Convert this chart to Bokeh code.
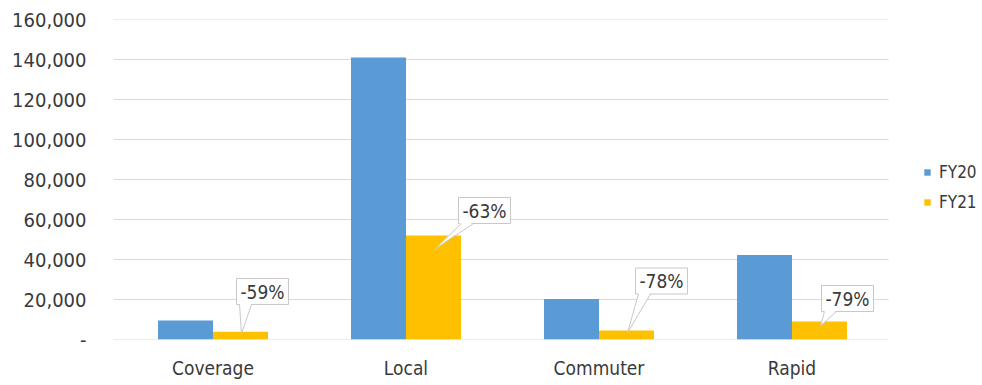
from bokeh.plotting import figure
from bokeh.models import Range1d, FixedTicker, Legend, LegendItem, NumeralTickFormatter
from bokeh.core.properties import value
from bokeh.embed import file_html
from bokeh.resources import INLINE

# ---- data ----
categories = ["Coverage", "Local", "Commuter", "Rapid"]
fy20 = [9500, 141000, 20200, 42200]
fy21 = [3900, 52000, 4500, 9000]
pct_change = [-59, -63, -78, -79]
y_ticks = [0, 20000, 40000, 60000, 80000, 100000, 120000, 140000, 160000]

# ---- callout placement (positions, not data) ----
label_dx_px = [22, 51, 35, 28]          # box centre offset from bar centre (px)
label_y = [24000, 64500, 29250, 20500]  # box centre height (data)

FONT = "DejaVu Sans Condensed"
TXT = "#3a3a3a"
BLUE = "#5B9BD5"
GOLD = "#FFC000"
GRID = "#d9d9d9"

W, H = 982, 385
LEFT, RIGHT, TOP, BOTTOM = 113, 2, 19, 46
FRAME_W, FRAME_H = W - LEFT - RIGHT, H - TOP - BOTTOM
PX = 193.0                         # px per category
px_x = 1.0 / PX
px_y = 160000 / FRAME_H
x_start = -3 * px_x
x_end = x_start + FRAME_W * px_x

p = figure(width=W, height=H, output_backend="svg", toolbar_location=None,
           x_range=Range1d(x_start, x_end), y_range=Range1d(0, 160000),
           min_border_left=LEFT, min_border_right=RIGHT,
           min_border_top=TOP, min_border_bottom=BOTTOM)
p.outline_line_color = None
p.background_fill_color = "white"
p.xgrid.grid_line_color = None
p.ygrid.grid_line_color = None

# gridlines limited to the category area
p.segment(x0=[x_start] * len(y_ticks), x1=[len(categories)] * len(y_ticks),
          y0=y_ticks, y1=y_ticks, line_color=GRID, line_width=1)

centers = [i + 0.5 for i in range(len(categories))]
off = 27.5 * px_x
bw = 55 * px_x
xb = [c - off for c in centers]
xy = [c + off for c in centers]
r20 = p.vbar(x=xb, top=fy20, width=bw, bottom=0, fill_color=BLUE, line_color=None)
r21 = p.vbar(x=xy, top=fy21, width=bw, bottom=0, fill_color=GOLD, line_color=None)

# ---- callouts ----
bx = [x + d * px_x for x, d in zip(xy, label_dx_px)]
p.rect(x=bx, y=label_y, width=52, height=26, width_units="screen", height_units="screen",
       fill_color="white", line_color="#c8c8c8", line_width=1)
pxs, pys, l1x, l1y = [], [], [], []
for i in range(len(categories)):
    left = bx[i] - 26 * px_x
    bottom = label_y[i] - 13 * px_y
    tipx = xy[i] + 1 * px_x
    tipy = fy21[i] - min(0.25 * fy21[i], 7000)
    a = left + 3 * px_x
    b = left + 15 * px_x
    pxs.append([a, b, tipx])
    pys.append([bottom + 1.5 * px_y, bottom + 1.5 * px_y, tipy])
    l1x += [[a, tipx], [b, tipx]]
    l1y += [[bottom, tipy], [bottom, tipy]]
p.patches(xs=pxs, ys=pys, fill_color="white", line_color=None)
p.multi_line(xs=l1x, ys=l1y, line_color="#c8c8c8", line_width=1)
p.text(x=bx, y=label_y, text=[f"{v}%" for v in pct_change], text_align="center",
       text_baseline="middle", text_font=value(FONT), text_font_size="19px", text_color=TXT)

# ---- axes ----
p.xaxis.ticker = FixedTicker(ticks=centers)
p.xaxis.major_label_overrides = {c: n for c, n in zip(centers, categories)}
p.xaxis.major_tick_line_color = None
p.xaxis.minor_tick_line_color = None
p.xaxis.axis_line_color = None
p.xaxis.major_label_text_font = FONT
p.xaxis.major_label_text_font_size = "19px"
p.xaxis.major_label_text_color = TXT
p.xaxis.major_label_standoff = 11

p.yaxis.ticker = FixedTicker(ticks=y_ticks)
p.yaxis.formatter = NumeralTickFormatter(format="0,0")
p.yaxis.major_label_overrides = {0: "-"}
p.yaxis.major_tick_line_color = None
p.yaxis.minor_tick_line_color = None
p.yaxis.axis_line_color = None
p.yaxis.major_label_text_font = FONT
p.yaxis.major_label_text_font_size = "20px"
p.yaxis.major_label_text_color = TXT
p.yaxis.major_label_standoff = 21

legend = Legend(items=[LegendItem(label="FY20", renderers=[r20]),
                       LegendItem(label="FY21", renderers=[r21])],
                location=(923 - LEFT, H - BOTTOM - 212), orientation="vertical",
                padding=0, margin=0, spacing=10, glyph_width=8, glyph_height=8,
                label_standoff=8, label_height=20,
                label_text_font=FONT, label_text_font_size="17px", label_text_color=TXT,
                border_line_color=None, background_fill_alpha=0)
p.add_layout(legend, "center")

open("out.html", "w").write(file_html(p, INLINE))
